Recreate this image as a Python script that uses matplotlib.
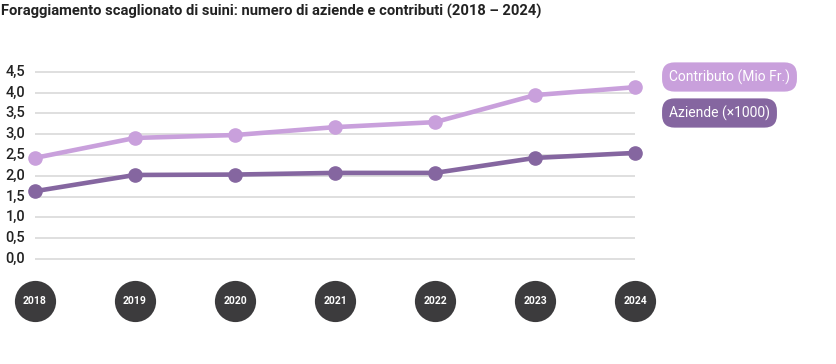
import matplotlib
matplotlib.use("Agg")
import matplotlib.pyplot as plt
from matplotlib.transforms import blended_transform_factory

# Dati
anni = [2018, 2019, 2020, 2021, 2022, 2023, 2024]
contributo = [2.43, 2.91, 2.98, 3.17, 3.29, 3.94, 4.13]
aziende = [1.63, 2.02, 2.03, 2.07, 2.07, 2.43, 2.55]
yticks = [0.0, 0.5, 1.0, 1.5, 2.0, 2.5, 3.0, 3.5, 4.0, 4.5]
titolo = "Foraggiamento scaglionato di suini: numero di aziende e contributi (2018 – 2024)"
etichette = ["Contributo (Mio Fr.)", "Aziende (×1000)"]

chiaro = "#c9a0dc"
scuro = "#8566a0"
grigio = "#3c3b3d"

plt.rcParams['font.family'] = ['Roboto', 'DejaVu Sans']

fig = plt.figure(figsize=(8.36, 3.64), dpi=100)
ax = fig.add_axes([0, 0, 1, 1])
ax.set_axis_off()

# scala: 100 px per anno, 41.6 px per unità
ax.set_xlim(2018 - 0.35, 2018 - 0.35 + 8.36)
ax.set_ylim(-105 / 41.6, (364 - 105) / 41.6)

# griglia
ax.hlines(yticks, anni[0], anni[-1], color="#d6d6d6", linewidth=1.1, zorder=1)

trans = blended_transform_factory(fig.transFigure, ax.transData)
for t in yticks:
    ax.text(25 / 836, t, f"{t:.1f}".replace(".", ","), transform=trans,
            ha="right", va="center", fontsize=10.5, color="#222222",
            fontweight="medium")

# linee
ax.plot(anni, contributo, color=chiaro, linewidth=3.3, marker="o",
        markersize=9.5, zorder=3, clip_on=False)
ax.plot(anni, aziende, color=scuro, linewidth=3.3, marker="o",
        markersize=9.5, zorder=3, clip_on=False)

# anni nei cerchi
y_cerchi = -(301 - 259) / 41.6
ax.scatter(anni, [y_cerchi] * len(anni), s=880, color=grigio, zorder=2,
           linewidths=0)
for a in anni:
    ax.text(a, y_cerchi, str(a), ha="center", va="center", fontsize=7.5,
            color="white", fontweight="bold", zorder=4)

# legenda a pillole
fig.text(669 / 836, 1 - 77 / 364, etichette[0], ha="left", va="center",
         fontsize=10, color="white",
         bbox=dict(boxstyle="round,pad=0.5,rounding_size=0.9", fc=chiaro, ec="none"))
fig.text(669 / 836, 1 - 113 / 364, etichette[1], ha="left", va="center",
         fontsize=10, color="white",
         bbox=dict(boxstyle="round,pad=0.5,rounding_size=0.9", fc=scuro, ec="none"))

# titolo
fig.text(1 / 836, 1 - 11 / 364, titolo, ha="left", va="center",
         fontsize=10.6, fontweight="bold", color="#222222")

fig.savefig("out.png", dpi=100)
